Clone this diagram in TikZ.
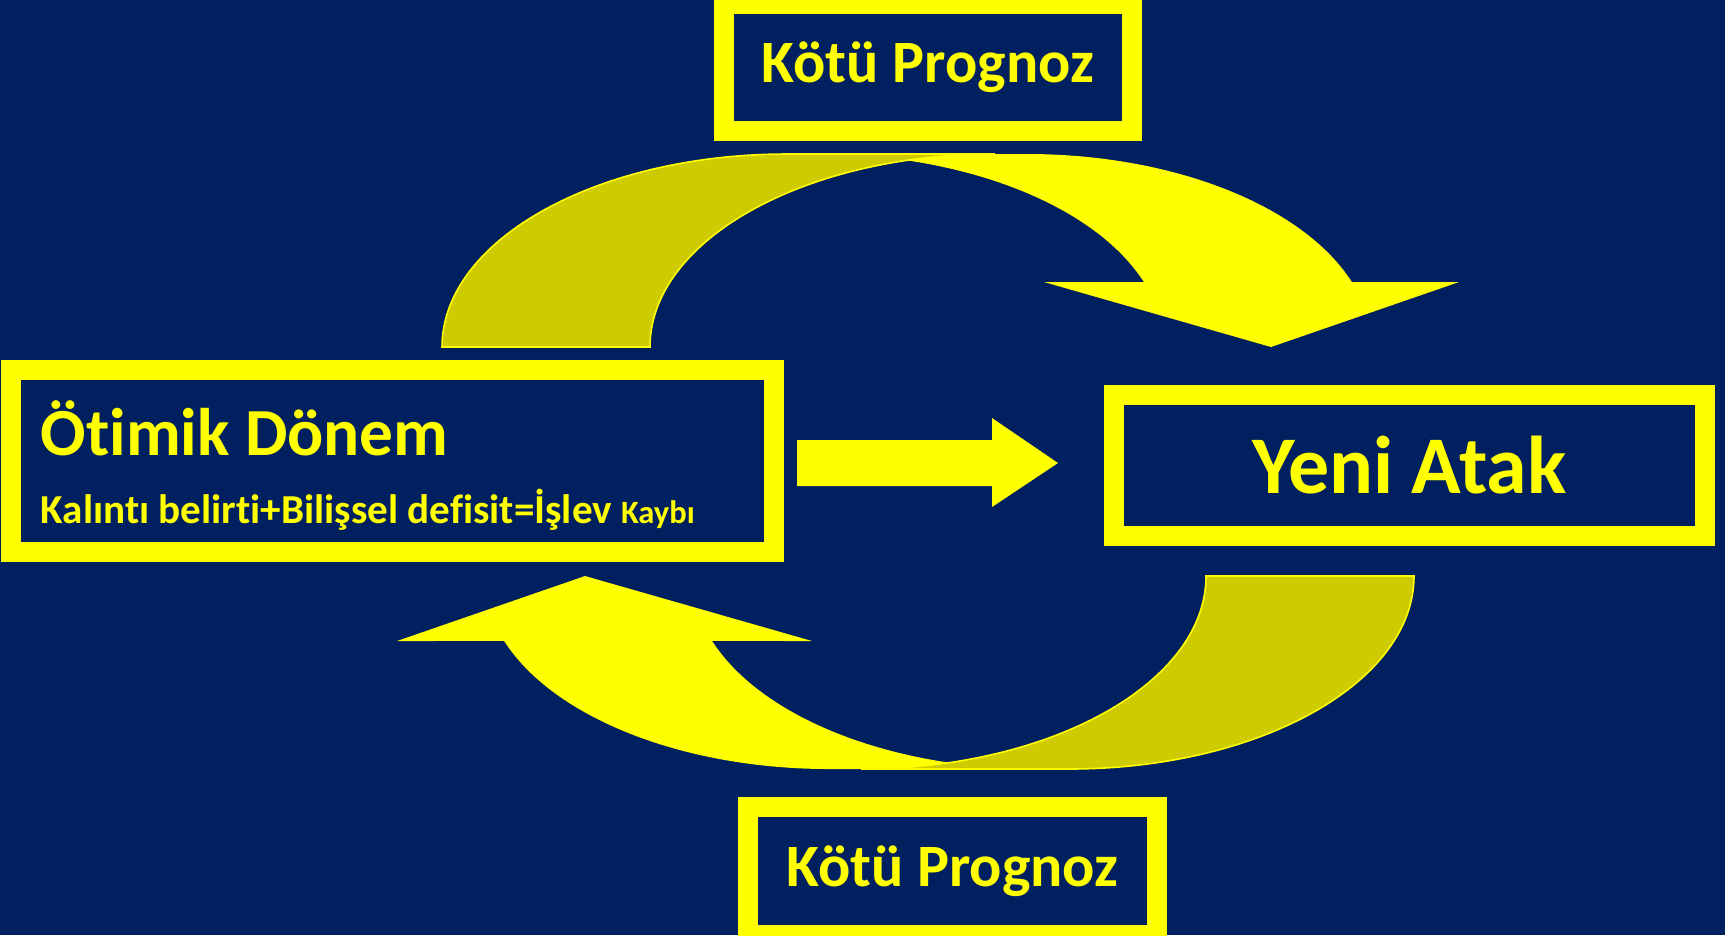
\documentclass[tikz,border=0pt]{standalone}
\usepackage{fontspec}
\setmainfont{Carlito}[Ligatures=NoCommon]
\usepackage{xcolor}
\usepackage{tikz}
\definecolor{navy}{RGB}{0,32,96}
\definecolor{boxyellow}{RGB}{255,255,0}
\definecolor{backyellow}{RGB}{206,204,0}
\tikzstyle{panel} = [draw=boxyellow, line width=5.69pt, fill=navy, inner sep=0pt]
\tikzstyle{label} = [text=boxyellow, font=\bfseries, inner sep=0pt]
\tikzstyle{backband} = [fill=backyellow, draw=boxyellow, line width=0.45pt]
\tikzstyle{frontband} = [fill=boxyellow]

\begin{document}
\begin{tikzpicture}[x=0.01cm, y=-0.01cm]
		\clip (0,0) rectangle (1725,935);
		\fill[navy] (0,0) rectangle (1725,935);

		\node (prog1) [panel, minimum width=4.075cm, minimum height=1.265cm] at (927.75,67.25) {};
		\node (otimik) [panel, minimum width=7.63cm, minimum height=1.82cm] at (392.5,461) {};
		\node (atak) [panel, minimum width=5.905cm, minimum height=1.405cm] at (1409.25,465.25) {};
		\node (prog2) [panel, minimum width=4.085cm, minimum height=1.275cm] at (952.25,871.25) {};

		\node (prog1text) [label, font=\bfseries\fontsize{17.1}{20}\selectfont] at (prog1) {Kötü Prognoz};
		\node (prog2text) [label, font=\bfseries\fontsize{17.1}{20}\selectfont] at (prog2) {Kötü Prognoz};
		\node (ataktext) [label, font=\bfseries\fontsize{23.3}{28}\selectfont] at (atak) {Yeni Atak};
		\node (otimiktitle) [label, anchor=base west, font=\bfseries\fontsize{19.15}{22}\selectfont] at (40,455) {Ötimik Dönem};
		\node (otimiksub) [label, anchor=base west, font=\bfseries\fontsize{11.7}{14}\selectfont] at (40,523)
			{Kalıntı belirti+Bilişsel defisit=İşlev {\fontsize{9.25}{11}\selectfont Kaybı}};

		% block arrow between the panels
		\fill[boxyellow] (797,440) -- (992,440) -- (992,418) -- (1058,463) -- (992,507) -- (992,486) -- (797,486) -- cycle;

		% curved arrows, the lower one is the upper one turned round
		\foreach \ang in {0,180} {
			\begin{scope}[rotate around={\ang:(928,461.5)}]
				\fill[frontband] (819,154) -- (1027,154) arc[start angle=-90, end angle=-19.66, x radius=345, y radius=193]
					-- (1459,282) -- (1271,347) -- (1044,282) -- (1143.9,282.1)
					arc[start angle=-19.66, end angle=-90, x radius=345, y radius=193] -- cycle;
				\filldraw[backband] (442,347) arc[start angle=-180, end angle=-90, x radius=345, y radius=193]
					-- (995,154) arc[start angle=-90, end angle=-180, x radius=345, y radius=193] -- cycle;
			\end{scope}
		}
	\end{tikzpicture}
\end{document}
